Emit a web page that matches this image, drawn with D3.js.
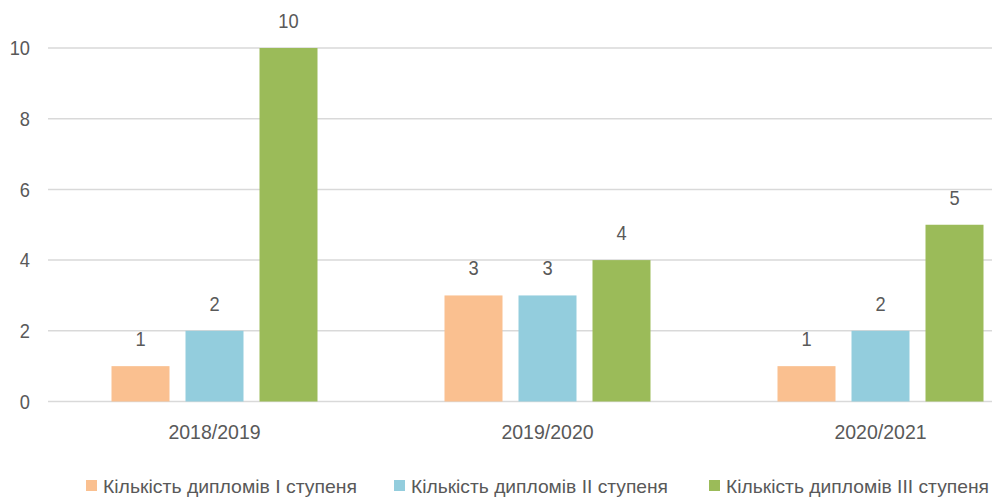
<!DOCTYPE html>
<html>
<head>
<meta charset="utf-8">
<script src="https://cdn.jsdelivr.net/npm/d3@7"></script>
<style>
  body { margin: 0; background: #fff; overflow: hidden; }
  text { font-family: "Liberation Sans", Arial, sans-serif; fill: #595959; }
</style>
</head>
<body>
<script>
var width = 992,
    height = 497;

var years = ['2018/2019', '2019/2020', '2020/2021'];
var series = ['Кількість дипломів I ступеня', 'Кількість дипломів II ступеня', 'Кількість дипломів III ступеня'];
var diplomasI = [1, 3, 1];
var diplomasII = [2, 3, 2];
var diplomasIII = [10, 4, 5];
var yTicks = [0, 2, 4, 6, 8, 10];
var colors = ['#FAC090', '#93CDDD', '#9BBB59'];

var values = [diplomasI, diplomasII, diplomasIII];

// the original font is narrower than what we have, squeeze it a bit
var squeeze = 'scale(0.87,1)';

var svg = d3.select('body')
    .append('svg')
    .attr('width', width)
    .attr('height', height);

// the plot area runs past the right edge, like the original crop
var x0 = d3.scaleBand()
    .domain(years)
    .range([48, 1047])
    .paddingInner(127 / 333)
    .paddingOuter(63.5 / 333);

var x1 = d3.scaleBand()
    .domain(d3.range(series.length))
    .range([0, x0.bandwidth()])
    .paddingInner(16 / 74);

var y = d3.scaleLinear()
    .domain([0, 10])
    .range([401.5, 48]);

// grid lines
svg.append('g')
    .selectAll('line')
    .data(yTicks)
    .enter()
    .append('line')
    .attr('x1', 48)
    .attr('x2', width)
    .attr('y1', function(d) { return y(d); })
    .attr('y2', function(d) { return y(d); })
    .style('stroke', '#d9d9d9')
    .style('stroke-width', 1.5);

// y axis labels
var yAxis = d3.axisLeft(y)
    .tickValues(yTicks)
    .tickSize(0)
    .tickPadding(0);

svg.append('g')
    .attr('transform', 'translate(30,0)')
    .call(yAxis)
    .call(function(g) { g.select('.domain').remove(); })
    .selectAll('text')
    .attr('transform', squeeze)
    .style('font-family', '"Liberation Sans", sans-serif')
    .style('font-size', '21px')
    .style('fill', '#595959');

// x axis labels
var xAxis = d3.axisBottom(x0)
    .tickSize(0)
    .tickPadding(0);

svg.append('g')
    .attr('transform', 'translate(0,424)')
    .call(xAxis)
    .call(function(g) { g.select('.domain').remove(); })
    .selectAll('text')
    .attr('dy', '0.71em')
    .attr('transform', 'scale(0.93,1)')
    .style('font-family', '"Liberation Sans", sans-serif')
    .style('font-size', '21px')
    .style('fill', '#595959');

// bars
var groups = svg.selectAll('g.year')
    .data(years)
    .enter()
    .append('g')
    .classed('year', true)
    .attr('transform', function(d) { return 'translate(' + x0(d) + ',0)'; });

var cells = function(d, i) {
    return values.map(function(v, s) { return {s: s, v: v[i]}; });
};

groups.selectAll('rect')
    .data(cells)
    .enter()
    .append('rect')
    .attr('x', function(d) { return x1(d.s); })
    .attr('width', x1.bandwidth())
    .attr('y', function(d) { return y(d.v); })
    .attr('height', function(d) { return y(0) - y(d.v); })
    .style('fill', function(d) { return colors[d.s]; });

groups.selectAll('text.val')
    .data(cells)
    .enter()
    .append('text')
    .classed('val', true)
    .attr('transform', function(d) {
        return 'translate(' + (x1(d.s) + x1.bandwidth() / 2) + ',' + (y(d.v) - 20) + ') ' + squeeze;
    })
    .attr('text-anchor', 'middle')
    .style('font-size', '21px')
    .text(function(d) { return d.v; });

// legend
var legendX = [86, 394, 709];
var legendW = [254, 257, 263];

var legend = svg.selectAll('g.legend')
    .data(series)
    .enter()
    .append('g')
    .classed('legend', true)
    .attr('transform', function(d, i) { return 'translate(' + legendX[i] + ',480)'; });

legend.append('rect')
    .attr('width', 11)
    .attr('height', 11)
    .style('fill', function(d, i) { return colors[i]; });

legend.append('text')
    .attr('x', 17)
    .attr('y', 12.5)
    .attr('textLength', function(d, i) { return legendW[i]; })
    .attr('lengthAdjust', 'spacingAndGlyphs')
    .style('font-size', '18.5px')
    .text(function(d) { return d; });
</script>
</body>
</html>
